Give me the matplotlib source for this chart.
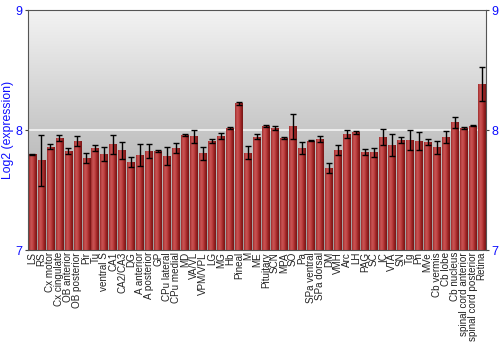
import numpy as np
import matplotlib
matplotlib.use("Agg")
import matplotlib.pyplot as plt
from matplotlib.colors import LinearSegmentedColormap

# tissue names, in plot order
regions = ["LS", "RS", "Cx motor", "Cx cingulate", "OB anterior", "OB posterior",
           "Pir", "Tu", "ventral S", "CA1", "CA2/CA3", "DG", "A anterior",
           "A posterior", "GP", "CPu lateral", "CPu medial", "MD", "VA/VL",
           "VPM/VPL", "LG", "MG", "Hb", "Pineal", "M", "ME", "Pituitary", "SCN",
           "MPA", "SO", "Pa", "SPa ventral", "SPa dorsal", "DM", "VMH", "Arc",
           "LH", "PAG", "SC", "IC", "VTA", "SN", "Tg", "Pn", "MVe", "Cb vermis",
           "Cb lobe", "Cb nucleus", "spinal cord anterior",
           "spinal cord posterior", "Retina"]

# log2 expression
expr = [7.797, 7.747, 7.861, 7.931, 7.825, 7.911,
        7.767, 7.850, 7.800, 7.883, 7.830, 7.730, 7.789,
        7.825, 7.825, 7.783, 7.853, 7.958, 7.947,
        7.806, 7.908, 7.950, 8.017, 8.222, 7.811, 7.944, 8.033, 8.014,
        7.933, 8.030, 7.850, 7.911, 7.925, 7.686, 7.833, 7.967,
        7.980, 7.819, 7.814, 7.939, 7.875, 7.919, 7.917, 7.908, 7.903, 7.856,
        7.944, 8.064, 8.017,
        8.036, 8.381]

# error bar half widths
err = [0.005, 0.210, 0.020, 0.024, 0.022, 0.042,
       0.044, 0.024, 0.061, 0.079, 0.069, 0.042, 0.093,
       0.061, 0.006, 0.078, 0.042, 0.011, 0.057,
       0.053, 0.013, 0.025, 0.006, 0.013, 0.053, 0.022, 0.006, 0.017,
       0.006, 0.106, 0.051, 0.006, 0.021, 0.043, 0.040, 0.037,
       0.014, 0.024, 0.038, 0.067, 0.089, 0.025, 0.081, 0.074, 0.024, 0.056,
       0.049, 0.046, 0.011,
       0.006, 0.142]

blue = "#0d0dff"
ymin, ymax = 7, 9

fig = plt.figure(figsize=(5, 3.5), dpi=100)
ax = fig.add_axes([0.056, 0.2857, 0.916, 0.6857])
x = np.arange(len(regions))

# gray gradient background
bg = LinearSegmentedColormap.from_list("bg", ["#9c9c9c", "#f3f3f3"])
ax.imshow(np.linspace(0, 1, 256).reshape(-1, 1), cmap=bg, origin="lower",
          extent=[-0.5, len(regions) - 0.5, ymin, ymax], aspect="auto", zorder=0)
ax.axhline(8, color="#f4f4f4", lw=1.2, zorder=1)

bars = ax.bar(x, np.array(expr) - ymin, bottom=ymin, width=0.86,
              color="#b33a3a", zorder=2)

# shade each bar like a cylinder
shade = LinearSegmentedColormap.from_list(
    "shade", ["#9e2a2a", "#c95555", "#c04444", "#9c2424", "#761515"])
grad = np.linspace(0, 1, 64).reshape(1, -1)
for b in bars:
    im = ax.imshow(grad, cmap=shade, aspect="auto", zorder=2,
                   extent=[b.get_x(), b.get_x() + b.get_width(),
                           ymin, b.get_y() + b.get_height()])
    im.set_clip_path(b)

ax.errorbar(x, expr, yerr=err, fmt="none", ecolor="black", elinewidth=1,
            capsize=2.2, capthick=1, zorder=3)

ax.set_xlim(-0.5, len(regions) - 0.5)
ax.set_ylim(ymin, ymax)
ax.set_xticks(x)
ax.set_xticklabels(regions, rotation=90, fontsize=7.1, family="Liberation Sans",
                   color="#222222")
ax.tick_params(axis="x", length=0, pad=1.5)

ax.set_yticks([7, 8, 9])
ax.tick_params(axis="y", which="both", left=True, right=True, labelleft=True,
               labelright=True, labelcolor=blue, labelsize=9, length=2.5,
               pad=1.5, color="#444444")
for lab in ax.get_yticklabels():
    lab.set_family("Liberation Sans")
ax.set_ylabel("Log2 (expression)", color=blue, fontsize=8.8,
              family="Liberation Sans", labelpad=1)

for side in ["left", "right", "top", "bottom"]:
    ax.spines[side].set_color("#555555")
    ax.spines[side].set_linewidth(0.8)

fig.savefig("out.png", dpi=100)
